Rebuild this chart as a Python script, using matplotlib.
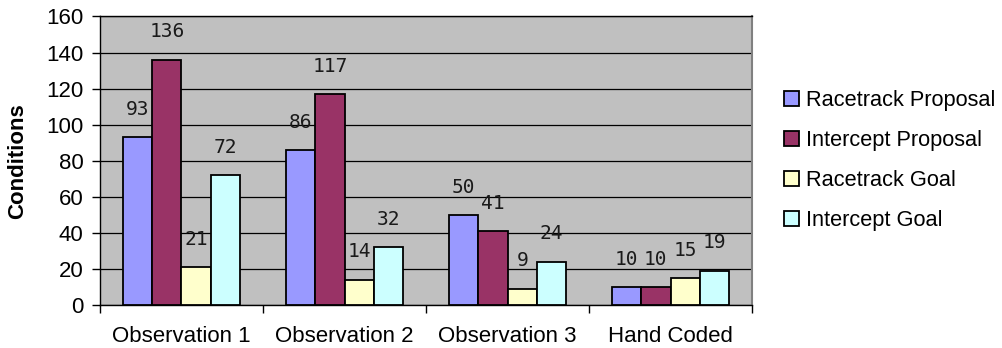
import matplotlib.pyplot as plt
import numpy as np

# Donnees
categories = ["Observation 1", "Observation 2", "Observation 3", "Hand Coded"]
racetrack_proposal = [93, 86, 50, 10]
intercept_proposal = [136, 117, 41, 10]
racetrack_goal = [21, 14, 9, 15]
intercept_goal = [72, 32, 24, 19]

series = [
    ("Racetrack Proposal", racetrack_proposal, "#9999FF"),
    ("Intercept Proposal", intercept_proposal, "#993366"),
    ("Racetrack Goal", racetrack_goal, "#FFFFCC"),
    ("Intercept Goal", intercept_goal, "#CCFFFF"),
]

plt.rcParams["font.family"] = ["Liberation Sans", "DejaVu Sans"]

fig = plt.figure(figsize=(10.02, 3.48), dpi=100)
ax = fig.add_axes([0.0998, 0.1236, 0.6507, 0.829])
ax.set_facecolor("#C0C0C0")

x = np.arange(len(categories))
largeur = 0.18
for i, (nom, valeurs, couleur) in enumerate(series):
    pos = x + (i - 1.5) * largeur
    ax.bar(pos, valeurs, largeur, color=couleur, edgecolor="black",
           linewidth=1.3, label=nom, zorder=3)
    for px, v in zip(pos, valeurs):
        ax.annotate(str(v), (px, v), xytext=(0, 20), textcoords="offset points",
                    ha="center", va="center", fontsize=14,
                    family="DejaVu Sans Mono", color="#1a1a1a", zorder=4)

ax.set_xlim(-0.5, 3.5)
ax.set_ylim(0, 160)
ax.set_yticks(np.arange(0, 161, 20))
ax.yaxis.grid(True, color="black", linewidth=0.9, zorder=0)
ax.set_axisbelow(True)

ax.set_xticks(x)
ax.set_xticklabels(categories)
ax.set_xticks(np.arange(-0.5, 3.6, 1), minor=True)
ax.tick_params(axis="x", which="major", length=0, pad=15, labelsize=16)
ax.tick_params(axis="x", which="minor", length=6, width=1, direction="out")
ax.tick_params(axis="y", length=6, width=1, direction="out", labelsize=16, pad=6)

for s in ["left", "bottom", "top"]:
    ax.spines[s].set_color("black")
    ax.spines[s].set_linewidth(1)
ax.spines["right"].set_color("#808080")
ax.spines["right"].set_linewidth(1.5)

ax.set_ylabel("Conditions", fontsize=16, fontweight="bold", labelpad=13)

ax.legend(loc="center left", bbox_to_anchor=(1.019, 0.5), frameon=False,
          fontsize=15.7, handlelength=0.7, handleheight=0.7,
          handletextpad=0.3, labelspacing=0.87)

fig.savefig("out.png", dpi=100)
